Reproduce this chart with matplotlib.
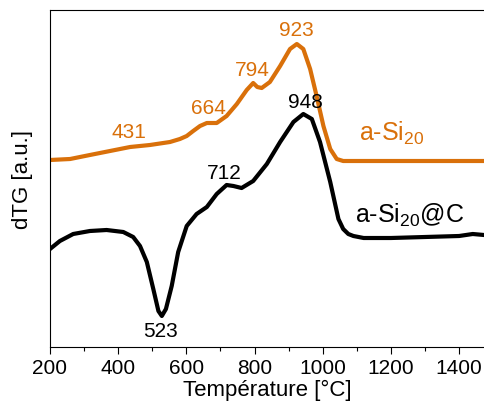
import numpy as np
import matplotlib.pyplot as plt

plt.rcParams['font.family'] = ['Liberation Sans', 'DejaVu Sans']
plt.rcParams['mathtext.fontset'] = 'custom'
plt.rcParams['mathtext.rm'] = 'Liberation Sans'
plt.rcParams['mathtext.it'] = 'Liberation Sans'

# a-Si20 (orange)
t_si = [200, 259, 317, 376, 435, 493, 552, 581, 601, 620, 640, 660, 675, 689,
        718, 748, 777, 796, 808, 821, 845, 875, 904, 924, 943, 963, 982, 1002,
        1022, 1041, 1060, 1200, 1300, 1400, 1473]
y_si = [187, 188, 192, 196, 200, 202, 205, 208, 211, 216, 221, 224, 224, 224,
        231, 243, 257, 264, 260, 259, 265, 281, 298, 303, 298, 278, 251, 221,
        198, 188, 186, 186, 186, 186, 186]

# a-Si20@C (black)
t_c = [200, 229, 268, 317, 366, 415, 444, 464, 484, 503, 518, 528, 540, 557,
       576, 601, 630, 660, 689, 718, 738, 762, 796, 836, 875, 914, 943, 968,
       992, 1022, 1046, 1060, 1075, 1090, 1120, 1200, 1300, 1400, 1440, 1473]
y_c = [98, 106, 113, 116, 117, 115, 110, 101, 85, 58, 36, 31, 38, 61,
       95, 121, 133, 140, 153, 162, 161, 159, 166, 183, 205, 225, 233, 228,
       205, 165, 128, 118, 113, 111, 109, 109, 110, 111, 113, 112]

orange = '#D9700A'

fig = plt.figure(figsize=(4.84, 4.10), dpi=100)
ax = fig.add_axes([50 / 484, 62 / 410, 434 / 484, 337 / 410])

ax.plot(t_si, y_si, color=orange, lw=3, solid_joinstyle='round')
ax.plot(t_c, y_c, color='black', lw=3, solid_joinstyle='round')

ax.set_xlim(200, 1473)
ax.set_ylim(0, 337)
ax.set_xticks(np.arange(200, 1401, 200))
ax.set_xticks(np.arange(300, 1401, 200), minor=True)
ax.set_yticks([])
ax.tick_params(axis='x', labelsize=15, length=5, width=0.8, pad=3)
ax.tick_params(axis='x', which='minor', length=3, width=0.8)
ax.spines['right'].set_visible(False)

ax.set_xlabel('Température [°C]', fontsize=16, labelpad=1)
ax.set_ylabel('dTG [a.u.]', fontsize=16, labelpad=12)

# peak labels (text, x, y, color)
peaks = [('431', 431, 215, orange), ('664', 664, 239, orange),
         ('794', 794, 277, orange), ('923', 923, 318, orange),
         ('948', 948, 246, 'black'), ('712', 712, 174, 'black'),
         ('523', 523, 16, 'black')]
for txt, x, y, c in peaks:
    ax.text(x, y, txt, color=c, fontsize=15, ha='center', va='center')

ax.text(1105, 207, r'a-Si$_{\mathrm{20}}$', color=orange, fontsize=18, ha='left', va='baseline')
ax.text(1096, 125, r'a-Si$_{\mathrm{20}}$@C', color='black', fontsize=18, ha='left', va='baseline')

fig.savefig('out.png', dpi=100)
